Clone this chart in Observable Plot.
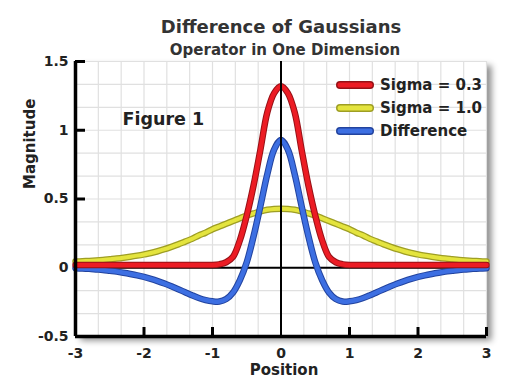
<!DOCTYPE html>
<html>
<head>
<meta charset="utf-8">
<script src="https://cdn.jsdelivr.net/npm/d3@7"></script>
<script src="https://cdn.jsdelivr.net/npm/@observablehq/plot@0.6"></script>
<style>
  html, body { margin: 0; padding: 0; background: #ffffff; }
  #wrap { position: relative; width: 513px; height: 387px; font-family: "DejaVu Sans", sans-serif; }
  #legend { position: absolute; left: 335px; top: 73px; }
  .lrow { display: flex; align-items: center; height: 23px; }
  .lrow span { font-weight: bold; font-size: 15px; color: #222; margin-left: 3px; }
</style>
</head>
<body>
<div id="wrap"></div>
<script>
// ---- data ----
const positions = [-3.0,-2.9,-2.8,-2.7,-2.6,-2.5,-2.4,-2.3,-2.2,-2.1,-2.0,-1.9,-1.8,-1.7,-1.6,-1.5,-1.4,-1.3,-1.2,-1.1,
  -1.0,-0.9,-0.8,-0.7,-0.6,-0.5,-0.4,-0.3,-0.2,-0.1,0.0,0.1,0.2,0.3,0.4,0.5,0.6,0.7,0.8,0.9,
  1.0,1.1,1.2,1.3,1.4,1.5,1.6,1.7,1.8,1.9,2.0,2.1,2.2,2.3,2.4,2.5,2.6,2.7,2.8,2.9,3.0];

const sigma03 = [0.02,0.02,0.02,0.02,0.02,0.02,0.02,0.02,0.02,0.02,0.02,0.02,0.02,0.02,0.02,0.02,0.02,0.02,0.02,0.02,
  0.02,0.025,0.04,0.08,0.20,0.38,0.60,0.86,1.13,1.27,1.32,1.27,1.13,0.86,0.60,0.38,0.20,0.08,0.04,0.025,
  0.02,0.02,0.02,0.02,0.02,0.02,0.02,0.02,0.02,0.02,0.02,0.02,0.02,0.02,0.02,0.02,0.02,0.02,0.02,0.02,0.02];

const sigma10 = [0.045,0.048,0.05,0.053,0.057,0.062,0.067,0.073,0.08,0.088,0.097,0.107,0.12,0.135,0.152,0.17,0.19,0.21,0.235,0.255,
  0.28,0.30,0.32,0.34,0.36,0.38,0.395,0.41,0.422,0.428,0.43,0.428,0.422,0.41,0.395,0.38,0.36,0.34,0.32,0.30,
  0.28,0.255,0.235,0.21,0.19,0.17,0.152,0.135,0.12,0.107,0.097,0.088,0.08,0.073,0.067,0.062,0.057,0.053,0.05,0.048,0.045];

const difference = [-0.003,-0.005,-0.008,-0.012,-0.016,-0.022,-0.028,-0.036,-0.045,-0.055,-0.067,-0.081,-0.097,-0.115,-0.135,-0.156,-0.178,-0.2,-0.22,-0.235,
  -0.244,-0.246,-0.228,-0.18,-0.09,0.04,0.23,0.45,0.68,0.86,0.93,0.86,0.68,0.45,0.23,0.04,-0.09,-0.18,-0.228,-0.246,
  -0.244,-0.235,-0.22,-0.2,-0.178,-0.156,-0.135,-0.115,-0.097,-0.081,-0.067,-0.055,-0.045,-0.036,-0.028,-0.022,-0.016,-0.012,-0.008,-0.005,-0.003];

const seriesNames = ["Sigma = 0.3", "Sigma = 1.0", "Difference"];
const xTickValues = [-3, -2, -1, 0, 1, 2, 3];
const yTickValues = [-0.5, 0, 0.5, 1, 1.5];
const titleText = "Difference of Gaussians";
const subtitleText = "Operator in One Dimension";
const figureText = "Figure 1";
const xLabel = "Position";
const yLabel = "Magnitude";

// ---- styles ----
const colors = {
  "Sigma = 0.3": {core: "#ec1c24", edge: "#961116"},
  "Sigma = 1.0": {core: "#e4e43e", edge: "#9e9e24"},
  "Difference": {core: "#3d6fe2", edge: "#22439e"}
};

const mk = (vals) => positions.map((x, i) => ({x, y: vals[i]}));
const red = mk(sigma03), yellow = mk(sigma10), blue = mk(difference);

const xGrid = d3.range(-9, 10).map(i => i / 3);
const yGrid = d3.range(-3, 10).map(i => i / 6);

const curveOpts = (c, w) => ({x: "x", y: "y", stroke: c, strokeWidth: w, curve: "catmull-rom", strokeLinecap: "round", strokeLinejoin: "round"});

const innerH = 387 - 61 - 51;
const innerW = 513 - 75 - 27;

const plot = Plot.plot({
  width: 513,
  height: 387,
  marginLeft: 75,
  marginRight: 27,
  marginTop: 61,
  marginBottom: 51,
  x: {domain: [-3, 3]},
  y: {domain: [-0.5, 1.5]},
  style: {fontFamily: "DejaVu Sans, sans-serif", fontWeight: "bold", fontSize: "14px", color: "#222", background: "white", overflow: "visible"},
  marks: [
    Plot.frame({fill: "white", stroke: "none"}),
    Plot.ruleX(xGrid, {stroke: "#e0e0e0", strokeWidth: 1.2}),
    Plot.ruleY(yGrid, {stroke: "#e0e0e0", strokeWidth: 1.2}),
    Plot.ruleY([0], {stroke: "black", strokeWidth: 2}),
    Plot.line(yellow, curveOpts(colors["Sigma = 1.0"].edge, 6.5)),
    Plot.line(yellow, curveOpts(colors["Sigma = 1.0"].core, 4)),
    Plot.line(blue, curveOpts(colors["Difference"].edge, 6.5)),
    Plot.line(blue, curveOpts(colors["Difference"].core, 4.5)),
    Plot.line(red, curveOpts(colors["Sigma = 0.3"].edge, 6.5)),
    Plot.line(red, curveOpts(colors["Sigma = 0.3"].core, 4.5)),
    Plot.ruleX([0], {stroke: "black", strokeWidth: 2}),
    Plot.ruleX([-3], {stroke: "black", strokeWidth: 3.5}),
    Plot.ruleY([-0.5], {stroke: "black", strokeWidth: 3.5}),
    Plot.tickX(xTickValues.filter(d => d !== -3 && d !== 0), {x: d => d, insetTop: innerH - 9, stroke: "black", strokeWidth: 3}),
    Plot.tickY(yTickValues.filter(d => d > 0), {y: d => d, insetRight: innerW - 10, stroke: "black", strokeWidth: 3}),
    Plot.axisX({ticks: xTickValues, tickSize: 0, tickPadding: 12, tickFormat: d => String(d), label: null, fontSize: 14, fontWeight: "bold", fill: "#222"}),
    Plot.axisY({ticks: yTickValues, tickSize: 0, tickPadding: 7, tickFormat: d => String(d), label: null, fontSize: 14, fontWeight: "bold", fill: "#222"}),
    Plot.text([titleText], {text: d => d, frameAnchor: "top", dy: -41, fontSize: 18, fontWeight: "bold", fill: "#333"}),
    Plot.text([subtitleText], {text: d => d, frameAnchor: "top", dx: 4, dy: -17, fontSize: 15, fontWeight: "bold", fill: "#333"}),
    Plot.text([figureText], {text: d => d, frameAnchor: "top-left", dx: 47, dy: 51, textAnchor: "start", fontSize: 17.5, fontWeight: "bold", fill: "#222"}),
    Plot.text([xLabel], {text: d => d, frameAnchor: "bottom", dx: 3, dy: 38, fontSize: 15, fontWeight: "bold", fill: "#222"}),
    Plot.text([yLabel], {text: d => d, frameAnchor: "left", dx: -45, dy: -10, rotate: -90, fontSize: 15, fontWeight: "bold", fill: "#222"})
  ]
});

const frameEl = plot.querySelector('[aria-label="frame"]');
if (frameEl) frameEl.style.filter = "drop-shadow(5px 4px 3px rgba(0,0,0,0.45))";

const wrap = document.getElementById("wrap");
wrap.appendChild(plot);

// legend
const legend = document.createElement("div");
legend.id = "legend";
for (const name of seriesNames) {
  const row = document.createElement("div");
  row.className = "lrow";
  const c = colors[name];
  row.innerHTML = `<svg width="42" height="14"><line x1="5" y1="7" x2="35" y2="7" stroke="${c.edge}" stroke-width="8" stroke-linecap="round"/><line x1="5" y1="7" x2="35" y2="7" stroke="${c.core}" stroke-width="5" stroke-linecap="round"/></svg><span>${name}</span>`;
  legend.appendChild(row);
}
wrap.appendChild(legend);
</script>
</body>
</html>
